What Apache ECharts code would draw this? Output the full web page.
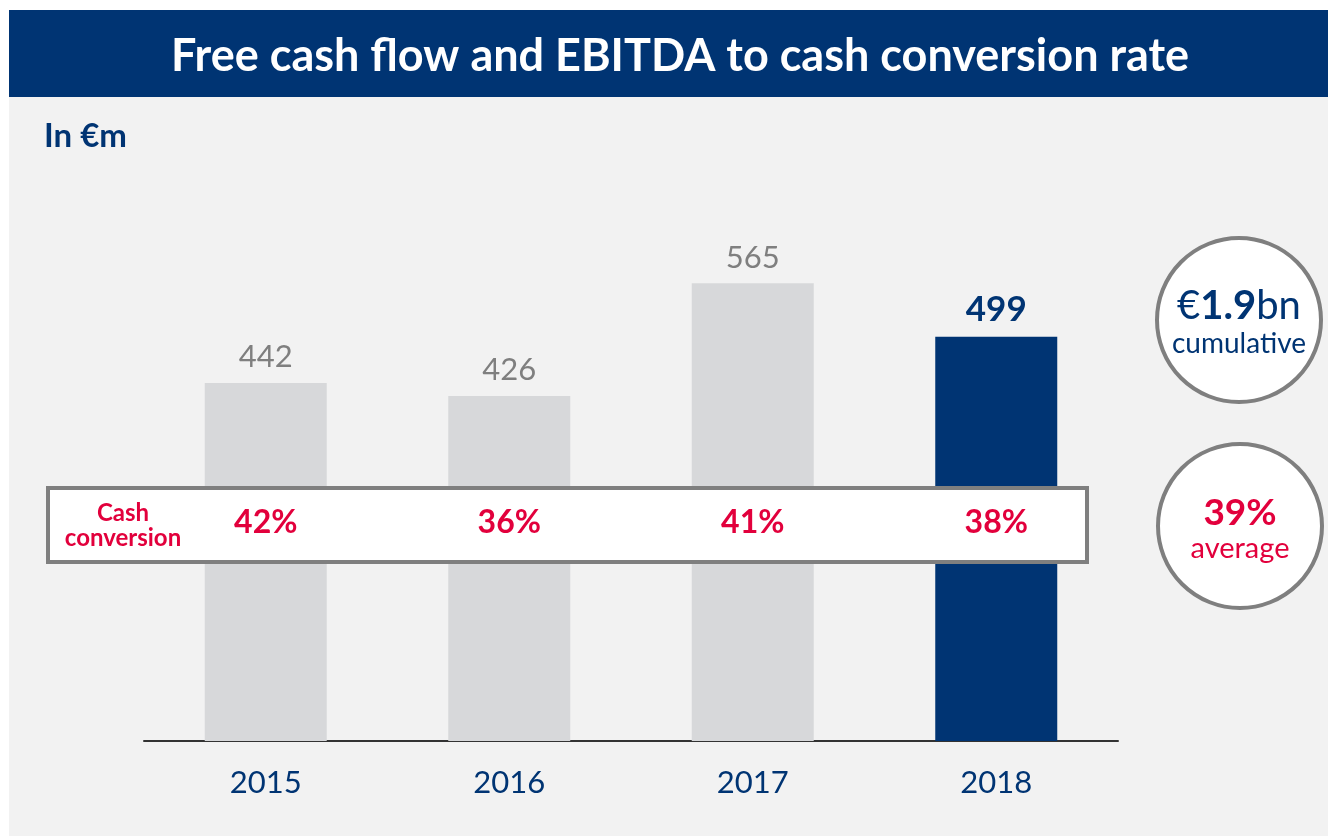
<!DOCTYPE html>
<html>
<head>
<meta charset="utf-8">
<script src="https://cdn.jsdelivr.net/npm/echarts@6/dist/echarts.min.js"></script>
<style>
  html, body { margin: 0; padding: 0; background: #ffffff; }
  #chart { width: 1334px; height: 838px; }
</style>
</head>
<body>
<div id="chart"></div>
<script>
var years = ['2015', '2016', '2017', '2018'];
var freeCashFlow = [442, 426, 565, 499];
var cashConversion = [42, 36, 41, 38];
var cumulativeText = '1.9';
var averageText = '39%';

var NAVY = '#003473', RED = '#e2003c', GREY_BAR = '#d7d8da', FONT = 'Lato, "DejaVu Sans", sans-serif';

var chart = echarts.init(document.getElementById('chart'));

var barData = freeCashFlow.map(function(v, i){
    var last = i === freeCashFlow.length - 1;
    return {
        value: v,
        itemStyle: { color: last ? NAVY : GREY_BAR },
        label: last ? { color: NAVY, fontWeight: 'bold', fontSize: 35 } : {}
    };
});

// row of conversion rates sits at a fixed height inside the white band
var RATE_ROW = 269;
var rateData = cashConversion.map(function(v, i){
    return { value: [years[i], RATE_ROW], rate: v };
});

chart.setOption({
    backgroundColor: '#ffffff',
    animation: false,
    grid: { left: 144, right: 216, top: 174, bottom: 97 },
    xAxis: {
        type: 'category',
        data: years,
        axisLine: { lineStyle: { color: '#333333', width: 2 } },
        axisTick: { show: false },
        axisLabel: { color: NAVY, fontSize: 31, fontFamily: FONT, margin: 26 }
    },
    yAxis: {
        type: 'value', min: 0, max: 700,
        show: false, splitLine: { show: false }
    },
    graphic: [
        { type: 'rect', z: -10, shape: { x: 9, y: 10, width: 1319, height: 826 }, style: { fill: '#f2f2f2' } },
        { type: 'rect', z: -9, shape: { x: 9, y: 10, width: 1319, height: 87 }, style: { fill: NAVY } },
        { type: 'text', z: -8, x: 680, y: 56, style: {
            text: 'Free cash flow and EBITDA to cash conversion rate', fill: '#ffffff',
            font: 'bold 45px ' + FONT, align: 'center', verticalAlign: 'middle' } },
        { type: 'text', z: -8, x: 44, y: 136, style: {
            text: 'In €m', fill: NAVY, font: 'bold 33px ' + FONT, verticalAlign: 'middle' } },
        { type: 'rect', z: 10, shape: { x: 48, y: 488, width: 1039, height: 74 },
          style: { fill: '#ffffff', stroke: '#7f7f7f', lineWidth: 4 } },
        { type: 'text', z: 11, x: 123, y: 526, style: {
            text: 'Cash\nconversion', fill: RED, font: 'bold 24px ' + FONT,
            align: 'center', verticalAlign: 'middle', lineHeight: 25 } },
        { type: 'circle', z: 10, shape: { cx: 1239, cy: 320, r: 82 },
          style: { fill: '#ffffff', stroke: '#7f7f7f', lineWidth: 4 } },
        { type: 'text', z: 11, x: 1239, y: 306, style: {
            text: '{n|€}{b|' + cumulativeText + '}{n|bn}',
            align: 'center', verticalAlign: 'middle',
            rich: {
                n: { fill: NAVY, fontSize: 40, fontFamily: FONT },
                b: { fill: NAVY, fontSize: 40, fontWeight: 'bold', fontFamily: FONT }
            } } },
        { type: 'text', z: 11, x: 1239, y: 344, style: {
            text: 'cumulative', fill: NAVY, font: '28px ' + FONT,
            align: 'center', verticalAlign: 'middle' } },
        { type: 'circle', z: 10, shape: { cx: 1240, cy: 526, r: 82 },
          style: { fill: '#ffffff', stroke: '#7f7f7f', lineWidth: 4 } },
        { type: 'text', z: 11, x: 1240, y: 513, style: {
            text: averageText, fill: RED, font: 'bold 37px ' + FONT,
            align: 'center', verticalAlign: 'middle' } },
        { type: 'text', z: 11, x: 1240, y: 549, style: {
            text: 'average', fill: RED, font: '29px ' + FONT,
            align: 'center', verticalAlign: 'middle' } }
    ],
    series: [
        {
            type: 'bar',
            data: barData,
            barWidth: 122,
            z: 2,
            label: {
                show: true, position: 'top', distance: 10,
                color: '#7f7f7f', fontSize: 31, fontFamily: FONT
            }
        },
        {
            type: 'scatter',
            data: rateData,
            symbolSize: 0,
            z: 20,
            silent: true,
            itemStyle: { opacity: 1 },
            label: {
                show: true, position: 'inside', opacity: 1,
                formatter: function(p){ return p.data.rate + '%'; },
                color: RED, fontSize: 32, fontWeight: 'bold', fontFamily: FONT
            }
        }
    ]
});
</script>
</body>
</html>
